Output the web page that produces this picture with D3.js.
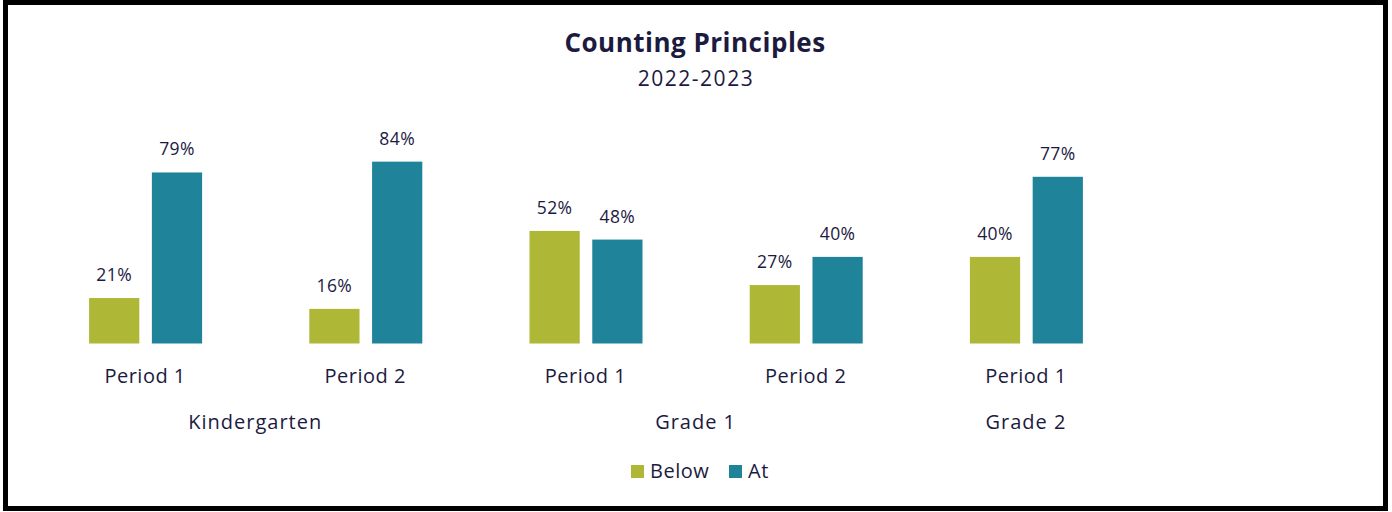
<!DOCTYPE html>
<html lang="en">
<head>
    <meta charset="UTF-8">
    <title>Counting Principles</title>
    <script src="https://d3js.org/d3.v7.min.js"></script>
    <style>
        body { margin: 0; background: #fff; }
        text { font-family: "Open Sans", sans-serif; fill: #1c1a3f; }
    </style>
</head>
<body>
    <script>
        const w = 1392;
        const h = 512;

        // Data
        const periods = ["Period 1", "Period 2", "Period 1", "Period 2", "Period 1"];
        const grades = ["Kindergarten", "Kindergarten", "Grade 1", "Grade 1", "Grade 2"];
        const seriesNames = ["Below", "At"];
        const below = [21, 16, 52, 27, 40];
        const at = [79, 84, 48, 40, 77];
        const colors = ["#afb737", "#1f8399"];

        const svg = d3.select("body")
                      .append("svg")
                      .attr("width", w)
                      .attr("height", h);

        // outer frame
        svg.append("rect")
           .attr("x", 5.5)
           .attr("y", 2.5)
           .attr("width", 1380)
           .attr("height", 506)
           .attr("fill", "white")
           .attr("stroke", "black")
           .attr("stroke-width", 5);

        // titles
        svg.append("text")
           .attr("x", 695).attr("y", 52)
           .attr("text-anchor", "middle")
           .style("font-size", "26px")
           .style("font-weight", "bold")
           .style("letter-spacing", "0.5px")
           .text("Counting Principles");

        svg.append("text")
           .attr("x", 696).attr("y", 86)
           .attr("text-anchor", "middle")
           .style("font-size", "21px")
           .style("letter-spacing", "1.5px")
           .text("2022-2023");

        const idx = d3.range(periods.length);
        const xScale = d3.scaleBand()
                         .domain(idx)
                         .range([35, 1136]);

        const xInner = d3.scaleBand()
                         .domain(seriesNames)
                         .range([xScale.bandwidth() / 2 - 56, xScale.bandwidth() / 2 + 57])
                         .paddingInner(0.2);

        const yScale = d3.scaleLinear()
                         .domain([0, 100])
                         .range([343.5, 127]);

        const rows = idx.map(i => ({ i, values: [below[i], at[i]] }));

        const groups = svg.selectAll(".grp")
                          .data(rows)
                          .enter()
                          .append("g")
                          .attr("class", "grp")
                          .attr("transform", d => `translate(${xScale(d.i)}, 0)`);

        const cells = groups.selectAll(".cell")
                            .data(d => d.values.map((v, k) => ({ k, v })))
                            .enter()
                            .append("g");

        cells.append("rect")
             .attr("x", d => xInner(seriesNames[d.k]))
             .attr("y", d => yScale(d.v))
             .attr("width", xInner.bandwidth())
             .attr("height", d => yScale(0) - yScale(d.v))
             .attr("fill", d => colors[d.k]);

        cells.append("text")
             .attr("x", d => xInner(seriesNames[d.k]) + xInner.bandwidth() / 2)
             .attr("y", d => yScale(d.v) - 17)
             .attr("text-anchor", "middle")
             .style("font-size", "17.5px")
             .style("letter-spacing", "0.4px")
             .text(d => d.v + "%");

        // period labels
        groups.append("text")
              .attr("x", xScale.bandwidth() / 2)
              .attr("y", 383)
              .attr("text-anchor", "middle")
              .style("font-size", "20px")
              .style("letter-spacing", "0.5px")
              .text(d => periods[d.i]);

        // grade labels centered under their periods
        const gradeNames = Array.from(new Set(grades));
        gradeNames.forEach(g => {
            const members = idx.filter(i => grades[i] === g);
            const cx = d3.mean(members, i => xScale(i) + xScale.bandwidth() / 2);
            svg.append("text")
               .attr("x", cx)
               .attr("y", 429)
               .attr("text-anchor", "middle")
               .style("font-size", "20px")
               .style("letter-spacing", "1px")
               .text(g);
        });

        // legend
        const legend = svg.append("g").attr("transform", "translate(631, 465)");
        const legX = [0, 98];
        seriesNames.forEach((s, k) => {
            legend.append("rect")
                  .attr("x", legX[k]).attr("y", 0)
                  .attr("width", 13).attr("height", 13)
                  .attr("fill", colors[k]);
            legend.append("text")
                  .attr("x", legX[k] + 19).attr("y", 13)
                  .style("font-size", "20px")
                  .style("letter-spacing", "0.5px")
                  .text(s);
        });
    </script>
</body>
</html>
